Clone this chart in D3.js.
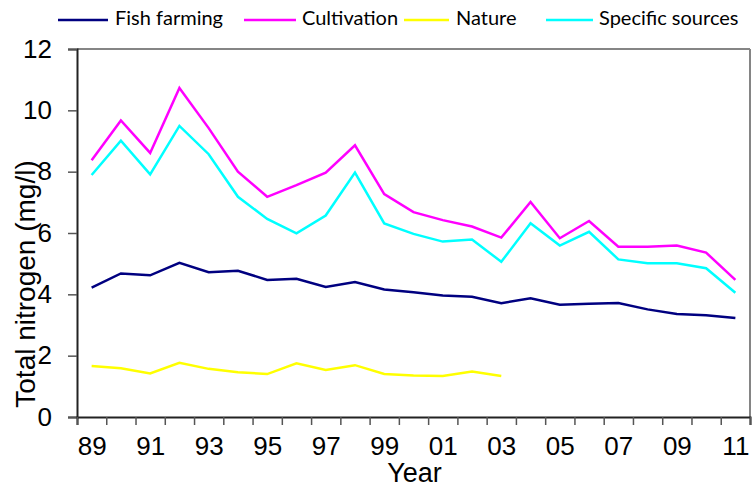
<!DOCTYPE html>
<html>
<head>
<meta charset="utf-8">
<script src="https://cdn.jsdelivr.net/npm/d3@7"></script>
<style>
  html, body { margin: 0; padding: 0; background: #fff; }
  svg { display: block; }
</style>
</head>
<body>
<svg id="chart" width="752" height="488"></svg>
<script>
const years = d3.range(1989, 2012);
const tickYears = [1989, 1991, 1993, 1995, 1997, 1999, 2001, 2003, 2005, 2007, 2009, 2011];
const yTicks = [0, 2, 4, 6, 8, 10, 12];
const seriesNames = ["Fish farming", "Cultivation", "Nature", "Specific sources"];
const seriesColors = ["#000080", "#FF00FF", "#FFFF00", "#00FFFF"];

const fishFarming = [4.22, 4.68, 4.62, 5.03, 4.72, 4.77, 4.47, 4.51, 4.24, 4.40, 4.16, 4.07, 3.96, 3.92, 3.71, 3.87, 3.66, 3.69, 3.72, 3.51, 3.36, 3.32, 3.23];
const cultivation = [8.37, 9.67, 8.61, 10.73, 9.42, 8.00, 7.18, 7.56, 7.97, 8.86, 7.27, 6.68, 6.42, 6.21, 5.85, 7.01, 5.83, 6.39, 5.55, 5.55, 5.59, 5.36, 4.47];
const nature = [1.66, 1.59, 1.42, 1.77, 1.57, 1.46, 1.40, 1.75, 1.53, 1.69, 1.40, 1.35, 1.34, 1.48, 1.34];
const specificSources = [7.89, 9.01, 7.91, 9.49, 8.57, 7.18, 6.46, 5.99, 6.57, 7.97, 6.31, 5.97, 5.72, 5.79, 5.06, 6.32, 5.59, 6.04, 5.14, 5.01, 5.01, 4.85, 4.05];

const seriesValues = [fishFarming, cultivation, nature, specificSources];

const svg = d3.select("#chart");
const mLeft = 77, mRight = 750, mTop = 49, mBottom = 417;

const x = d3.scaleLinear().domain([1988.5, 2011.5]).range([mLeft, mRight]);
const y = d3.scaleLinear().domain([0, 12]).range([mBottom, mTop]);

const axisFont = "'Liberation Sans', Arial, sans-serif";

// frame top and right (gray)
svg.append("line").attr("x1", mLeft).attr("x2", mRight).attr("y1", mTop).attr("y2", mTop)
  .attr("stroke", "#858585").attr("stroke-width", 2);
svg.append("line").attr("x1", mRight).attr("x2", mRight).attr("y1", mTop).attr("y2", mBottom)
  .attr("stroke", "#858585").attr("stroke-width", 2);

// Y axis
const yAxis = svg.append("g").attr("transform", `translate(${mLeft},0)`)
  .call(d3.axisLeft(y).tickValues(yTicks).tickSize(9).tickPadding(16).tickFormat(d3.format("d")));
yAxis.select(".domain").attr("stroke", "#222").attr("stroke-width", 2);
yAxis.selectAll(".tick line").attr("stroke", "#555").attr("stroke-width", 1.5);
yAxis.selectAll(".tick text").attr("font-family", axisFont).attr("font-size", 26).attr("fill", "#000");

// X axis tick marks at year boundaries
const xTickMarks = svg.append("g").attr("transform", `translate(0,${mBottom})`)
  .call(d3.axisBottom(x).tickValues(d3.range(1988.5, 2012, 1)).tickSize(8).tickFormat(""));
xTickMarks.select(".domain").attr("stroke", "#222").attr("stroke-width", 2);
xTickMarks.selectAll(".tick line").attr("stroke", "#555").attr("stroke-width", 1.5);

// X labels
const xLabels = svg.append("g").attr("transform", `translate(0,${mBottom})`)
  .call(d3.axisBottom(x).tickValues(tickYears).tickSize(0).tickPadding(20)
    .tickFormat(d => String(d % 100).padStart(2, "0")));
xLabels.select(".domain").remove();
xLabels.selectAll(".tick text").attr("font-family", axisFont).attr("font-size", 26).attr("fill", "#000");

// Axis titles
svg.append("text").attr("x", (mLeft + mRight) / 2 + 1).attr("y", 482)
  .attr("text-anchor", "middle").attr("font-family", axisFont).attr("font-size", 27)
  .text("Year");
svg.append("text").attr("transform", "translate(35,284) rotate(-90)")
  .attr("text-anchor", "middle").attr("font-family", axisFont).attr("font-size", 28)
  .text("Total nitrogen (mg/l)");

// Lines
const line = d3.line().x((d, i) => x(years[i])).y(d => y(d));
seriesValues.forEach((vals, k) => {
  svg.append("path").datum(vals)
    .attr("d", line)
    .attr("fill", "none")
    .attr("stroke", seriesColors[k])
    .attr("stroke-width", 2.5)
    .attr("stroke-linejoin", "miter");
});

// Legend
const legendLayout = [
  { lx1: 58, lx2: 108, tx: 115 },
  { lx1: 244, lx2: 296, tx: 302 },
  { lx1: 404, lx2: 449, tx: 456 },
  { lx1: 546, lx2: 593, tx: 599 }
];
const legend = svg.append("g");
seriesNames.forEach((name, k) => {
  const L = legendLayout[k];
  legend.append("line").attr("x1", L.lx1).attr("x2", L.lx2).attr("y1", 20).attr("y2", 20)
    .attr("stroke", seriesColors[k]).attr("stroke-width", 2.6);
  legend.append("text").attr("x", L.tx).attr("y", 25)
    .attr("font-family", "Lato, 'Open Sans', sans-serif").attr("font-size", 20).attr("fill", "#000")
    .text(name);
});
</script>
</body>
</html>
